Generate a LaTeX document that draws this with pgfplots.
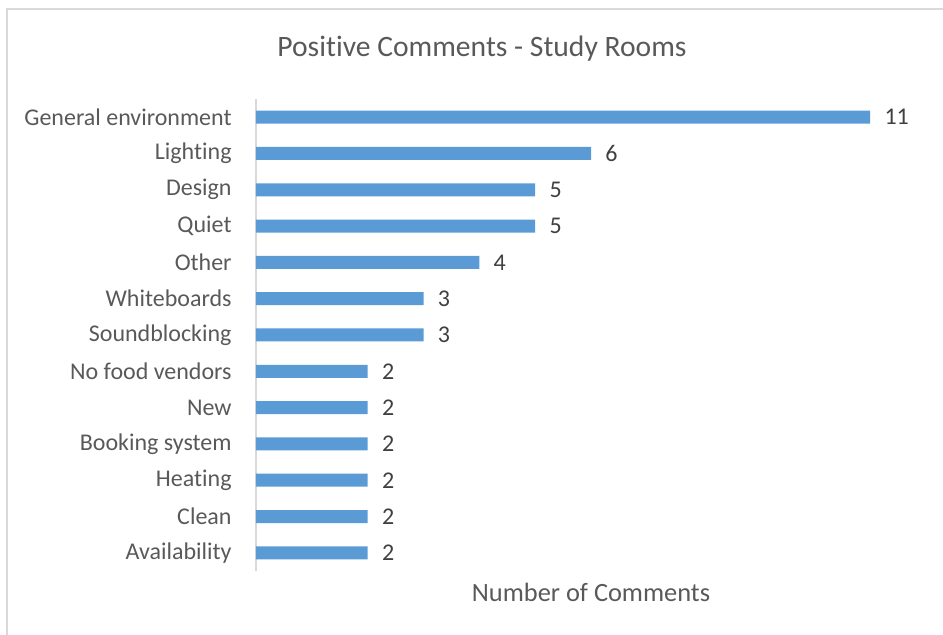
\documentclass[border=0pt]{standalone}
\usepackage{pgfplots}
\pgfplotsset{compat=1.18}
\usepackage{fontspec}
\setmainfont[Ligatures=NoCommon]{Carlito}
\definecolor{barblue}{HTML}{5B9BD5}
\definecolor{txtgray}{HTML}{595959}
\definecolor{valgray}{HTML}{404040}
\definecolor{linegray}{HTML}{D9D9D9}

\begin{document}
\begin{tikzpicture}[x=1pt,y=1pt]
\useasboundingbox (0,0) rectangle (471.5,317.5);
% chart frame (right and bottom edges are cropped in the reference)
\draw[linegray, line width=1pt] (3.5,-2) -- (3.5,313) -- (474,313);

\node[font=\fontsize{14.8}{17}\selectfont, text=txtgray] at (241,293) {Positive Comments - Study Rooms};

\begin{axis}[
    at={(128pt,32pt)}, anchor=south west,
    scale only axis,
    width=335pt, height=236pt,
    xbar, bar width=6.5pt,
    xmin=0, xmax=12,
    ymin=-0.5, ymax=12.5,
    axis x line*=bottom, axis y line*=left,
    x axis line style={draw=none},
    y axis line style={draw=linegray, line width=0.75pt, -},
    xtick=\empty,
    ytick={0,...,12},
    yticklabels={Availability, Clean, Heating, Booking system, New, No food vendors, Soundblocking, Whiteboards, Other, Quiet, Design, Lighting, General environment},
    major tick length=0pt,
    yticklabel style={font=\fontsize{12}{14}\selectfont, text=txtgray, anchor=east, inner sep=0pt, xshift=-12pt},
    /pgf/number format/assume math mode=true,
    nodes near coords,
    nodes near coords style={font=\fontsize{12}{14}\selectfont, text=valgray, anchor=west, inner sep=0pt, xshift=7pt},
    clip=false,
]
\addplot[fill=barblue, draw=none] coordinates {
    (2,0) (2,1) (2,2) (2,3) (2,4) (2,5) (3,6) (3,7) (4,8) (5,9) (5,10) (6,11) (11,12)
};
\node[font=\fontsize{13.2}{15}\selectfont, text=txtgray] at ([yshift=-10.5pt]rel axis cs:0.5,0) {Number of Comments};
\end{axis}
\end{tikzpicture}
\end{document}
